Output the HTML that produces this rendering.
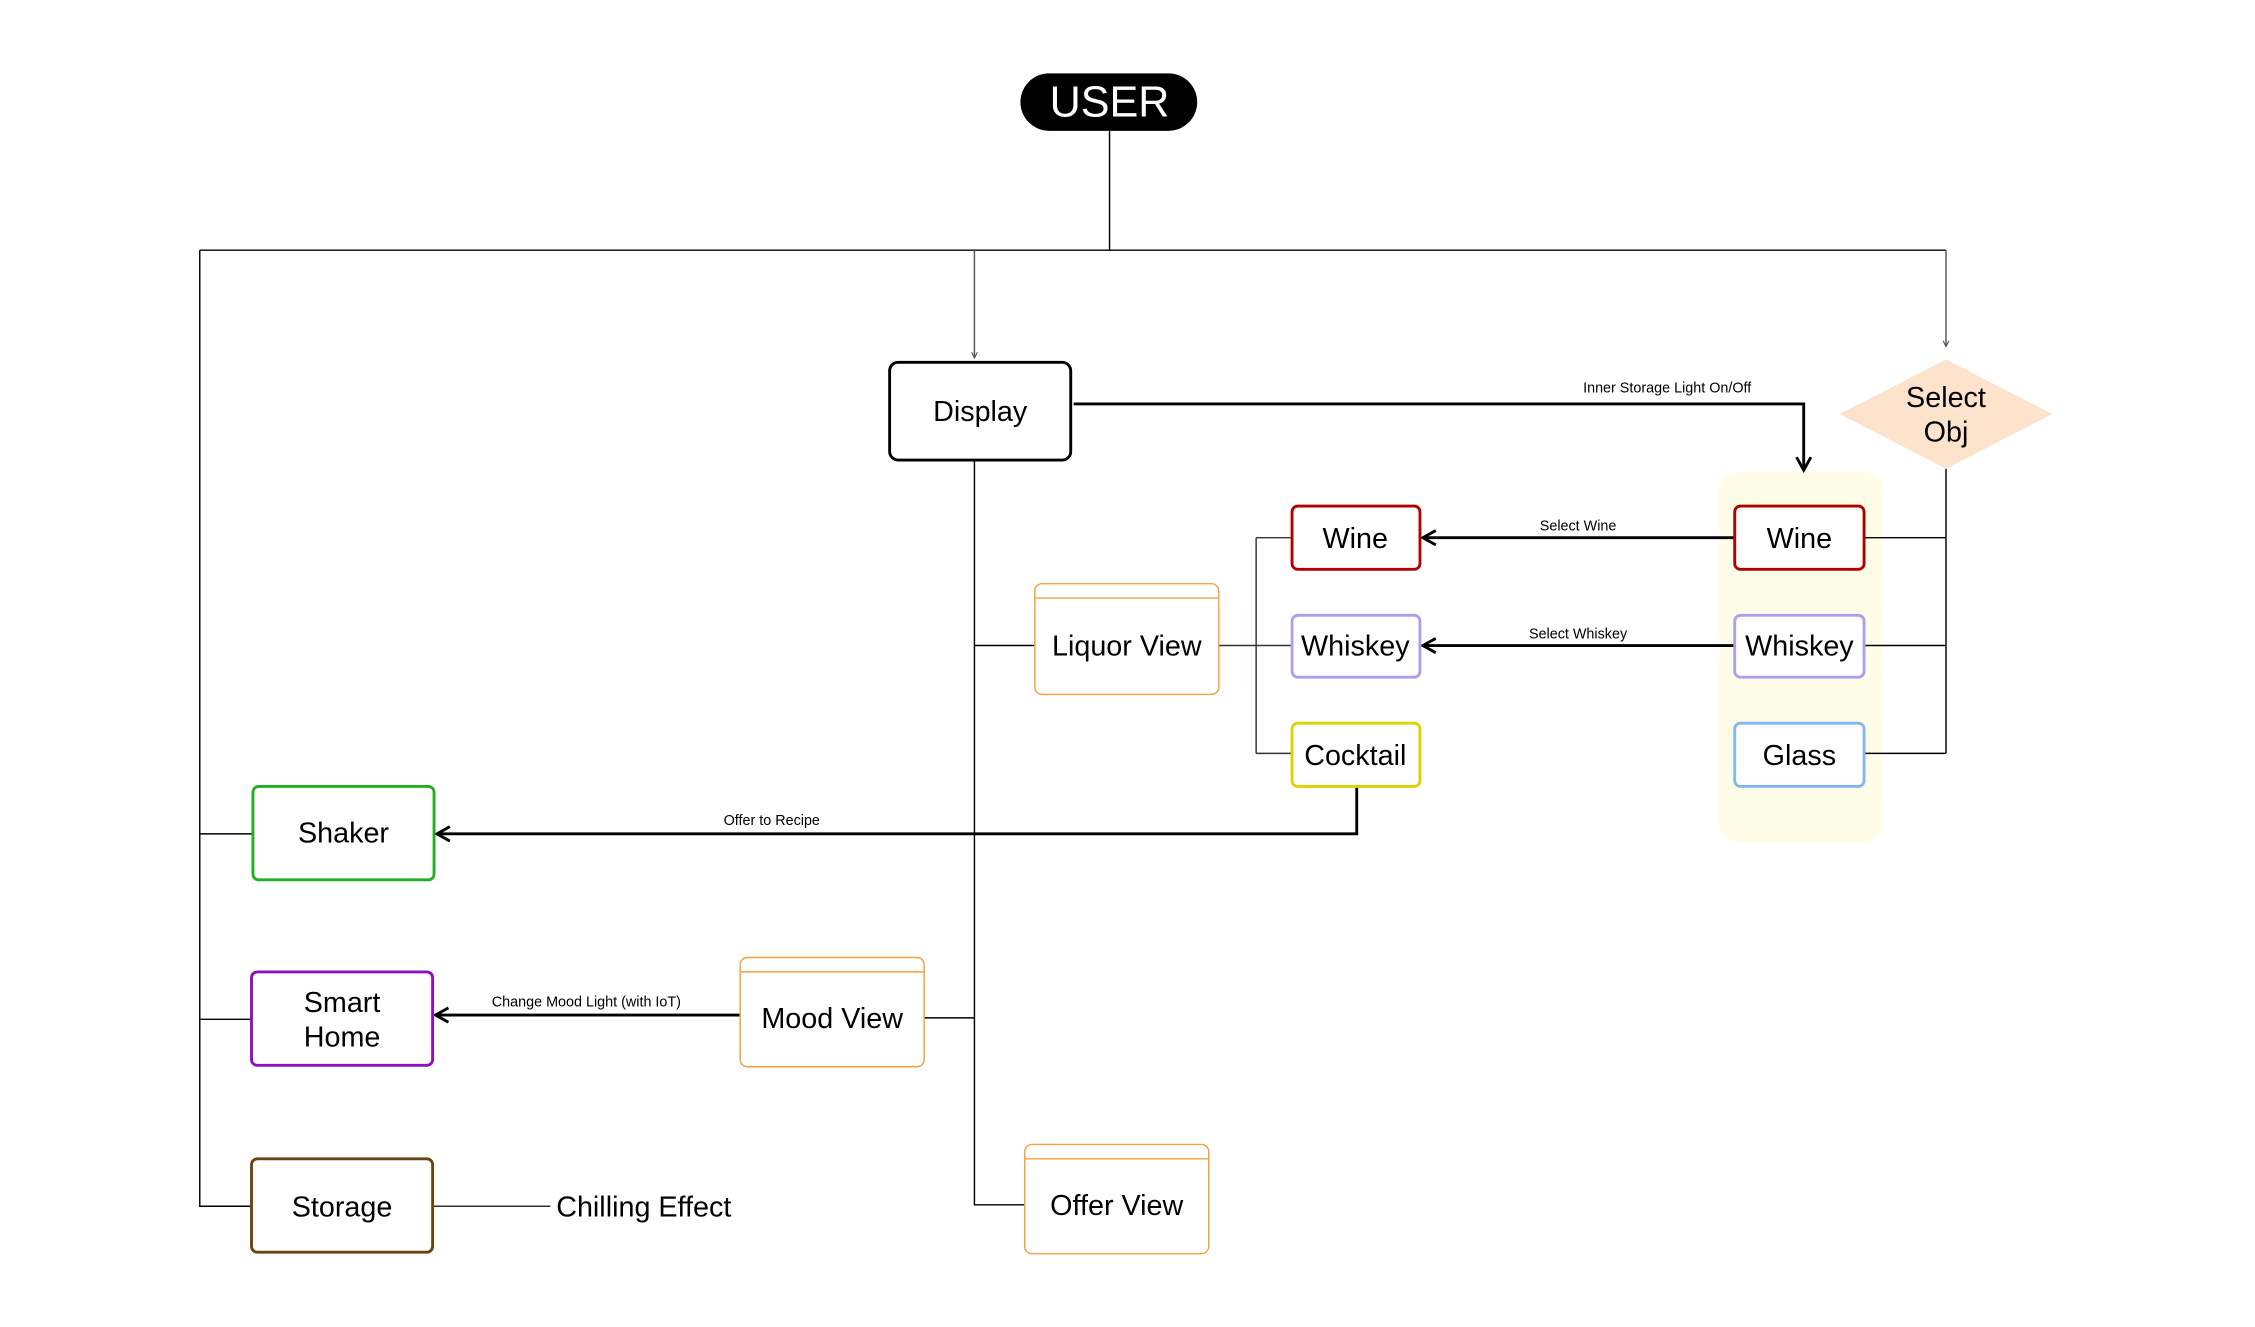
<!DOCTYPE html>
<html><head><meta charset="utf-8"><style>html,body{margin:0;padding:0;background:#fff}svg{display:block}text{font-family:"Liberation Sans",sans-serif;fill:#000}</style></head>
<body>
<svg width="2255" height="1327" viewBox="0 0 1569 923" preserveAspectRatio="none" xmlns="http://www.w3.org/2000/svg">
<defs>
<marker id="a" markerWidth="12" markerHeight="12" refX="10" refY="6" orient="auto" markerUnits="userSpaceOnUse"><path d="M1,1 L10,6 L1,11" fill="none" stroke="#000" stroke-width="2"/></marker>
<marker id="s" markerWidth="6" markerHeight="6" refX="5" refY="3" orient="auto" markerUnits="userSpaceOnUse"><path d="M1,1 L5,3 L1,5" fill="none" stroke="#555" stroke-width="0.8"/></marker>
</defs>
<rect x="1196" y="328" width="114" height="258" rx="14" fill="#fefde8"/>
<g fill="none" stroke="#000" stroke-width="1">
<path d="M772,91 V174 M139,174 H1354 M139,174 V839 H175 M139,580 H176 M139,709 H175"/>
<path d="M678,174 V249" stroke="#555" marker-end="url(#s)"/>
<path d="M1354,174 V241" stroke="#555" marker-end="url(#s)"/>
<path d="M678,320 V838 H713 M678,449 H720 M643,708 H678"/>
<path d="M848,449 H899 M874,374 V524 M874,374 H899 M874,524 H899" stroke="#333"/>
<path d="M1297,374 H1354 M1297,449 H1354 M1297,524 H1354 M1354,326 V524"/>
<path d="M301,839 H383" stroke="#333"/>
</g>
<polygon points="1354,250 1428,288 1354,326 1280,288" fill="#fde3cb"/>
<text x="1354" y="283" font-size="20" text-anchor="middle">Select</text>
<text x="1354" y="307" font-size="20" text-anchor="middle">Obj</text>
<g fill="none" stroke="#000" stroke-width="2">
<path d="M747,281 H1255 V327" marker-end="url(#a)"/>
<path d="M1207,374 H990" marker-end="url(#a)"/>
<path d="M1207,449 H990" marker-end="url(#a)"/>
<path d="M944,547 V580 H304" marker-end="url(#a)"/>
<path d="M515,706 H303" marker-end="url(#a)"/>
</g>
<rect x="710" y="51" width="123" height="40" rx="20" fill="#000"/>
<text x="772" y="81" font-size="30" text-anchor="middle" style="fill:#fff">USER</text>
<g stroke-width="2" fill="#fff">
<rect x="619" y="252" width="126" height="68" rx="6" stroke="#000"/>
<rect x="899" y="352" width="89" height="44" rx="4" stroke="#b00000"/>
<rect x="899" y="428" width="89" height="43" rx="4" stroke="#a9a0f0"/>
<rect x="899" y="503" width="89" height="44" rx="4" stroke="#e0d000"/>
<rect x="1207" y="352" width="90" height="44" rx="4" stroke="#b00000"/>
<rect x="1207" y="428" width="90" height="43" rx="4" stroke="#a9a0f0"/>
<rect x="1207" y="503" width="90" height="44" rx="4" stroke="#80b8f0"/>
<rect x="176" y="547" width="126" height="65" rx="4" stroke="#20b020"/>
<rect x="175" y="676" width="126" height="65" rx="4" stroke="#8a10c0"/>
<rect x="175" y="806" width="126" height="65" rx="4" stroke="#6b4510"/>
</g>
<g fill="#fff" stroke="#f6a040" stroke-width="1">
<rect x="720" y="406" width="128" height="77" rx="5"/><path d="M720,416 H848"/>
<rect x="515" y="666" width="128" height="76" rx="5"/><path d="M515,676 H643"/>
<rect x="713" y="796" width="128" height="76" rx="5"/><path d="M713,806 H841"/>
</g>
<g font-size="20" text-anchor="middle">
<text x="682" y="293">Display</text>
<text x="943" y="381">Wine</text>
<text x="943" y="456">Whiskey</text>
<text x="943" y="532">Cocktail</text>
<text x="1252" y="381">Wine</text>
<text x="1252" y="456">Whiskey</text>
<text x="1252" y="532">Glass</text>
<text x="784" y="456">Liquor View</text>
<text x="579" y="715">Mood View</text>
<text x="777" y="845">Offer View</text>
<text x="239" y="586">Shaker</text>
<text x="238" y="704">Smart</text>
<text x="238" y="728">Home</text>
<text x="238" y="846">Storage</text>
<text x="387" y="846" text-anchor="start">Chilling Effect</text>
</g>
<g font-size="10" text-anchor="middle">
<text x="1160" y="273">Inner Storage Light On/Off</text>
<text x="1098" y="369">Select Wine</text>
<text x="1098" y="444">Select Whiskey</text>
<text x="537" y="574">Offer to Recipe</text>
<text x="408" y="700">Change Mood Light (with IoT)</text>
</g>
</svg>
</body></html>
